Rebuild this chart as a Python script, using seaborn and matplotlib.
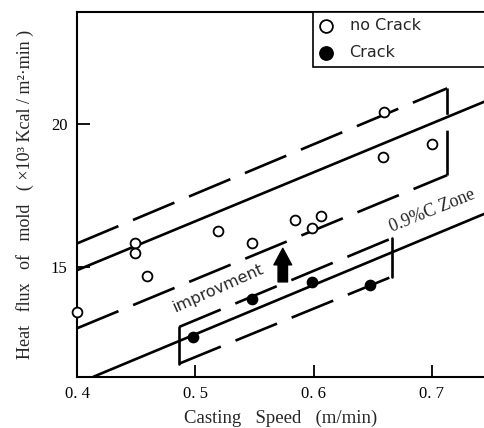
import numpy as np
import seaborn as sns
import matplotlib.pyplot as plt

# measured points
no_crack_speed = [0.400, 0.449, 0.449, 0.459, 0.519, 0.548, 0.584, 0.599, 0.606, 0.659, 0.660, 0.700]
no_crack_flux = [13.42, 15.82, 15.49, 14.68, 16.25, 15.84, 16.64, 16.35, 16.78, 18.84, 20.44, 19.31]
crack_speed = [0.498, 0.548, 0.599, 0.648]
crack_flux = [12.54, 13.86, 14.47, 14.36]

# guide lines (speed, flux)
center_x, center_y = [0.400, 0.745], [14.88, 20.81]
upper_x, upper_y = [0.400, 0.713], [15.82, 21.27]
lower_x, lower_y = [0.400, 0.713], [12.84, 18.22]
right_x, right_y = [0.713, 0.713], [18.22, 21.27]
zone_x, zone_y = [0.414, 0.745], [11.14, 16.87]
box_top_x, box_top_y = [0.4865, 0.666], [12.89, 16.00]
box_bot_x, box_bot_y = [0.4865, 0.666], [11.60, 14.65]
box_left_x, box_left_y = [0.4865, 0.4865], [11.60, 12.89]
box_right_x, box_right_y = [0.666, 0.666], [14.65, 16.00]

x_ticks = [0.4, 0.5, 0.6, 0.7]
y_ticks = [15, 20]

sns.set_theme(style="ticks")
plt.rcParams['font.family'] = ['Liberation Serif', 'DejaVu Serif']

fig = plt.figure(figsize=(4.85, 4.28), dpi=100)
ax = fig.add_axes([0.1588, 0.1199, 0.8412, 0.852])

lw = 1.9
dash = (0, (17, 6))
ax.plot(center_x, center_y, color="black", lw=lw)
ax.plot(zone_x, zone_y, color="black", lw=lw)
ax.plot(upper_x, upper_y, color="black", lw=lw, linestyle=dash)
ax.plot(lower_x, lower_y, color="black", lw=lw, linestyle=dash)
ax.plot(right_x, right_y, color="black", lw=lw, linestyle=dash)
ax.plot(box_top_x, box_top_y, color="black", lw=lw, linestyle=dash)
ax.plot(box_bot_x, box_bot_y, color="black", lw=lw, linestyle=dash)
ax.plot(box_left_x, box_left_y, color="black", lw=lw)
ax.plot(box_right_x, box_right_y, color="black", lw=lw)

sns.scatterplot(x=no_crack_speed, y=no_crack_flux, ax=ax, s=50, marker="o",
                facecolor="white", edgecolor="black", linewidth=1.3,
                label="no Crack", zorder=5, clip_on=False)
sns.scatterplot(x=crack_speed, y=crack_flux, ax=ax, s=55, marker="o",
                color="black", edgecolor="black", linewidth=1.0,
                label="Crack", zorder=5)

ax.annotate("", xy=(0.574, 15.65), xytext=(0.574, 14.47),
            arrowprops=dict(arrowstyle="simple,head_width=0.75,head_length=0.7,tail_width=0.4",
                            color="black", shrinkA=0, shrinkB=0, mutation_scale=17))
ax.text(0.519, 14.25, "improvment", rotation=24, ha="center", va="center",
        fontsize=11.5, family=["DejaVu Sans"], rotation_mode="anchor")
ax.text(0.668, 16.08, "0.9%C Zone", rotation=22, ha="left", va="bottom",
        fontsize=13, rotation_mode="anchor")

ax.set_xlim(0.4, 0.745)
ax.set_ylim(11.14, 23.95)
ax.set_xticks(x_ticks)
ax.set_xticklabels(["0. 4", "0. 5", "0. 6", "0. 7"])
ax.set_yticks(y_ticks)
ax.tick_params(axis="both", direction="in", length=9, width=1.3,
               labelsize=12, colors="black", pad=7)
for side in ["left", "bottom", "top"]:
    ax.spines[side].set_linewidth(1.5)
    ax.spines[side].set_color("black")
ax.spines["right"].set_visible(False)

ax.set_xlabel("Casting   Speed   (m/min)", fontsize=13.5, labelpad=5)
ax.set_ylabel("Heat   flux   of   mold   ( ×10³ Kcal / m²·min )", fontsize=13, labelpad=12)

leg = ax.legend(loc="upper left", bbox_to_anchor=(0.578, 0.0, 0.5, 1.0), mode="expand",
                borderaxespad=0, frameon=True, fancybox=False, edgecolor="black",
                framealpha=1, handlelength=0.8, handletextpad=1.1, labelspacing=0.75,
                markerscale=1.3, prop={"family": "DejaVu Sans", "size": 11.5})
leg.get_frame().set_linewidth(1.2)

fig.savefig("out.png", dpi=100)
